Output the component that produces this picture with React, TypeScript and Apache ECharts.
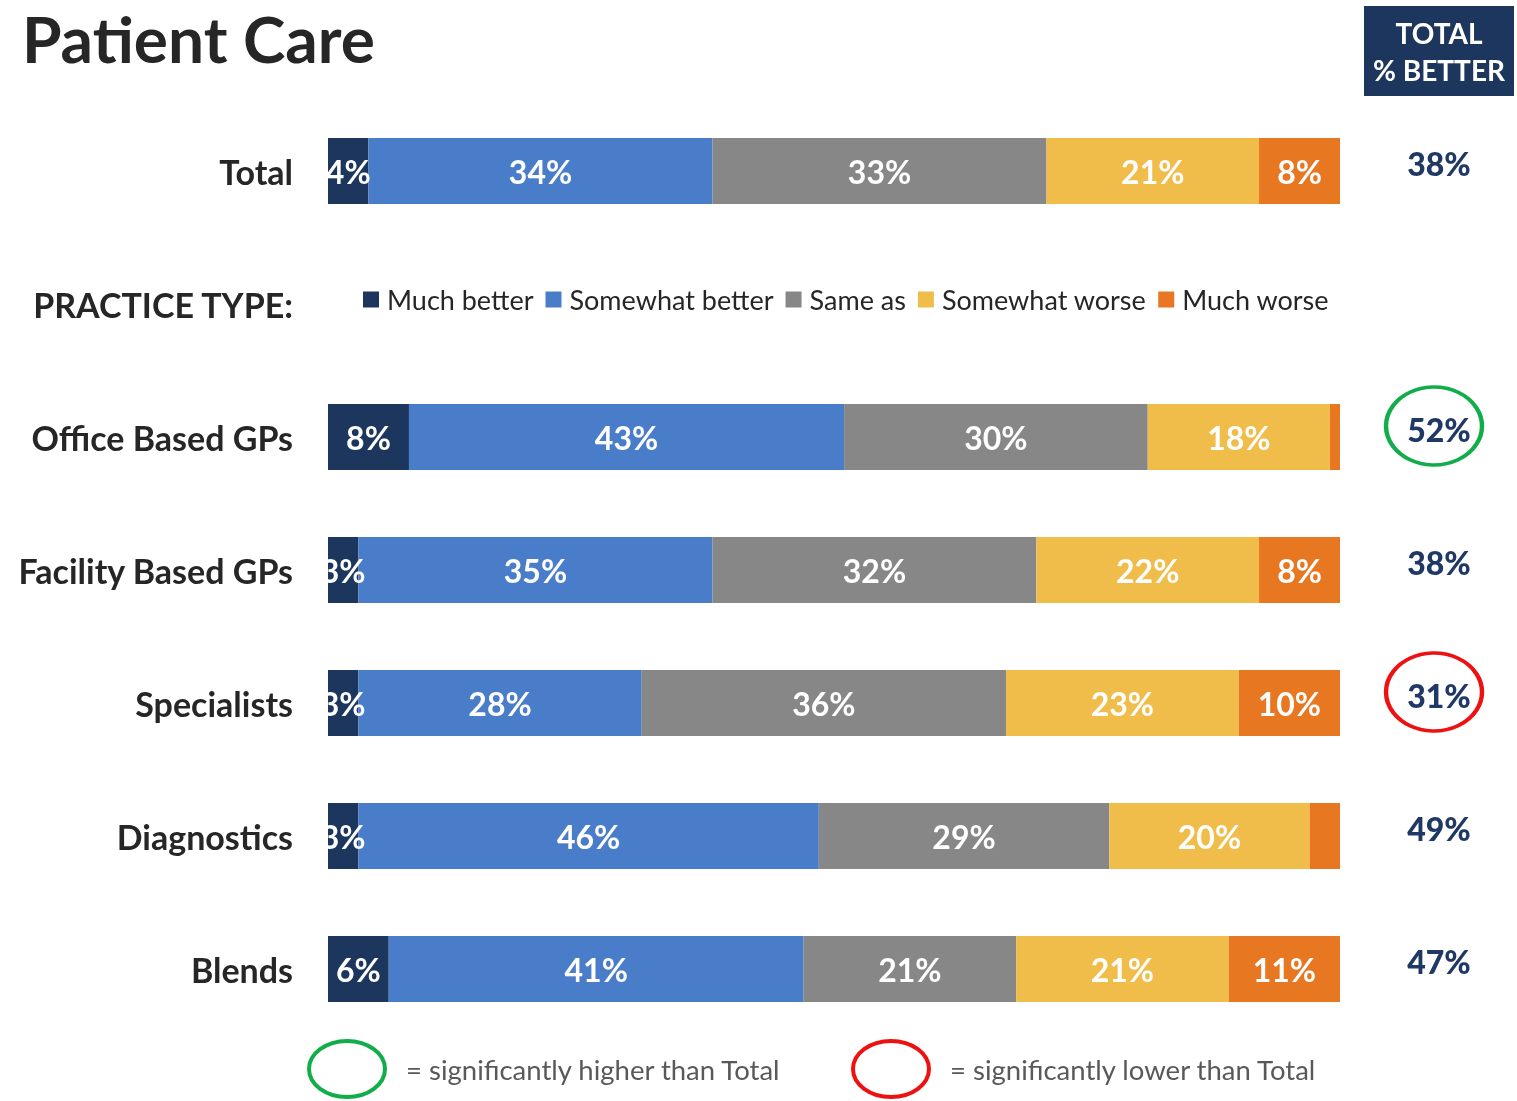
import React, { useEffect, useRef } from "react";
import * as echarts from "echarts";

const categories = ["Total", "PRACTICE TYPE:", "Office Based GPs", "Facility Based GPs", "Specialists", "Diagnostics", "Blends"];
const seriesNames = ["Much better", "Somewhat better", "Same as", "Somewhat worse", "Much worse"];
const muchBetter = [4, null, 8, 3, 3, 3, 6];
const somewhatBetter = [34, null, 43, 35, 28, 45.5, 41];
const sameAs = [33, null, 30, 32, 36, 28.7, 21];
const somewhatWorse = [21, null, 18, 22, 23, 19.8, 21];
const muchWorse = [8, null, 1, 8, 10, 3, 11];
const totalBetter = [38, null, 52, 38, 31, 49, 47];
// 1 = significantly higher than Total, -1 = significantly lower, 0 = not significant
const significance = [0, 0, 1, 0, -1, 0, 0];

const colors = ["#1D365D", "#4A7DC9", "#878787", "#F0BD4B", "#E87722"];
const FONT = "Lato";

export default function App() {
  const ref = useRef<HTMLDivElement>(null);
  useEffect(() => {
    if (!ref.current) return;
    const chart = echarts.init(ref.current, null, { renderer: "svg" });
    const values = [muchBetter, somewhatBetter, sameAs, somewhatWorse, muchWorse];
    const barSeries = values.map((arr, i) => ({
      name: seriesNames[i],
      type: "bar",
      stack: "all",
      xAxisIndex: 0,
      yAxisIndex: 0,
      barWidth: 66,
      itemStyle: { color: colors[i] },
      label: {
        show: true,
        position: "inside",
        color: "#fff",
        fontFamily: FONT,
        fontWeight: "bold",
        fontSize: 32,
        formatter: (p: any) => {
          if (p.value == null) return "";
          if (i > 0 && p.value < 5) return "";
          return Math.round(p.value) + "%";
        },
      },
      data: arr,
    }));
    const totalScatter = {
      type: "scatter",
      xAxisIndex: 1,
      yAxisIndex: 1,
      symbolSize: 1,
      silent: true,
      itemStyle: { opacity: 1, color: "rgba(0,0,0,0)" },
      label: {
        show: true,
        position: "inside",
        offset: [0, -8],
        color: "#1F3864",
        opacity: 1,
        fontFamily: FONT,
        fontWeight: 900,
        fontSize: 32,
        formatter: (p: any) => (p.data.v == null ? "" : p.data.v + "%"),
      },
      data: totalBetter.map((v, i) => ({ value: [0.5, categories[i]], v })),
    };
    const circleSeries = {
      type: "scatter",
      xAxisIndex: 1,
      yAxisIndex: 1,
      symbol: "circle",
      symbolSize: [96, 78],
      symbolOffset: [-5, -11],
      silent: true,
      itemStyle: { opacity: 1, color: "rgba(0,0,0,0)", borderWidth: 4 },
      data: significance
        .map((s, i) => ({ s, i }))
        .filter((d) => d.s !== 0)
        .map((d) => ({
          value: [0.5, categories[d.i]],
          itemStyle: { opacity: 1, color: "rgba(0,0,0,0)", borderColor: d.s > 0 ? "#12AD4B" : "#EE1111", borderWidth: 4 },
        })),
    };

    chart.setOption({
      animation: false,
      textStyle: { fontFamily: FONT },
      grid: [
        { left: 328, right: 177, top: 104.5, bottom: 65.5 },
        { left: 1364, width: 150, top: 104.5, bottom: 65.5 },
      ],
      xAxis: [
        { type: "value", min: 0, max: 100, show: false, gridIndex: 0 },
        { type: "value", min: 0, max: 1, show: false, gridIndex: 1 },
      ],
      yAxis: [
        {
          type: "category",
          data: categories,
          inverse: true,
          gridIndex: 0,
          axisLine: { show: false },
          axisTick: { show: false },
          axisLabel: {
            margin: 35,
            color: "#262626",
            fontFamily: FONT,
            fontWeight: "bold",
            fontSize: 34,
          },
        },
        { type: "category", data: categories, inverse: true, gridIndex: 1, show: false },
      ],
      legend: {
        data: seriesNames,
        left: 358,
        top: 281,
        icon: "rect",
        itemWidth: 16,
        itemHeight: 16,
        itemGap: 12,
        textStyle: { fontFamily: FONT, fontSize: 27, color: "#262626", padding: [0, 0, 0, 3] },
        selectedMode: false,
      },
      graphic: [
        {
          type: "rect",
          z: 100,
          shape: { x: 298, y: 100, width: 30, height: 940 },
          style: { fill: "#fff" },
        },
        {
          type: "text",
          x: 22,
          y: 6,
          style: {
            text: "Patient Care",
            font: `bold 64px ${FONT}`,
            fill: "#262626",
            verticalAlign: "top",
          },
        },
        {
          type: "rect",
          shape: { x: 1364, y: 6, width: 150, height: 90 },
          style: { fill: "#1D365D" },
        },
        {
          type: "text",
          x: 1439,
          y: 33,
          style: { text: "TOTAL", font: `bold 28px ${FONT}`, fill: "#fff", align: "center", verticalAlign: "middle" },
        },
        {
          type: "text",
          x: 1439,
          y: 70,
          style: { text: "% BETTER", font: `bold 28px ${FONT}`, fill: "#fff", align: "center", verticalAlign: "middle" },
        },
        {
          type: "ellipse",
          shape: { cx: 347, cy: 1069, rx: 38, ry: 28 },
          style: { fill: "none", stroke: "#12AD4B", lineWidth: 4 },
        },
        {
          type: "text",
          x: 406,
          y: 1069,
          style: { text: "= significantly higher than Total", font: `27.5px ${FONT}`, fill: "#595959", verticalAlign: "middle" },
        },
        {
          type: "ellipse",
          shape: { cx: 891, cy: 1069, rx: 38, ry: 28 },
          style: { fill: "none", stroke: "#EE1111", lineWidth: 4 },
        },
        {
          type: "text",
          x: 950,
          y: 1069,
          style: { text: "= significantly lower than Total", font: `27.5px ${FONT}`, fill: "#595959", verticalAlign: "middle" },
        },
      ],
      series: [...barSeries, totalScatter, circleSeries],
    });
    return () => chart.dispose();
  }, []);
  return <div ref={ref} style={{ position: "fixed", left: 0, top: 0, width: 1517, height: 1101 }} />;
}
